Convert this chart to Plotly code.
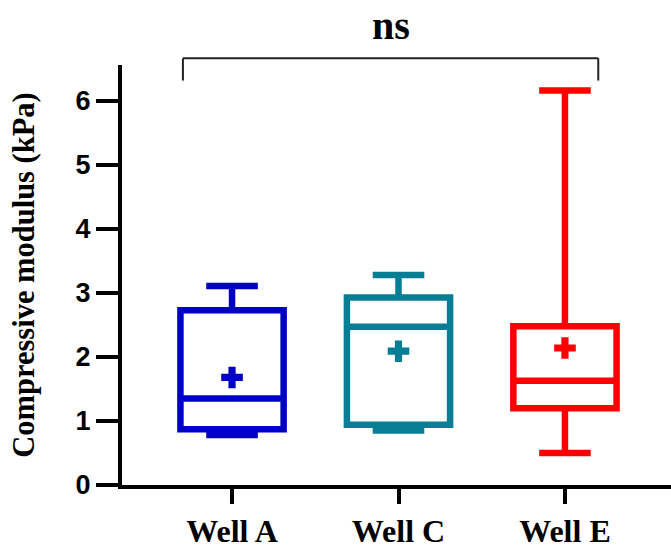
import plotly.graph_objects as go

# Compressive modulus summary statistics per well (kPa)
wells = ["Well A", "Well C", "Well E"]
upper_whisker = [3.11, 3.28, 6.16]
q3 = [2.73, 2.93, 2.48]
median = [1.35, 2.47, 1.63]
q1 = [0.87, 0.94, 1.20]
lower_whisker = [0.78, 0.85, 0.50]
mean = [1.68, 2.09, 2.14]
colors = ["#0000C4", "#077E96", "#FF0000"]

y_ticks = [0, 1, 2, 3, 4, 5, 6]
sig_label = "ns"

W, H = 671, 550
margin = dict(l=122, r=0, t=65, b=65)
x_range = [-0.661, 2.637]
y_range = [0, 6.56]

fig = go.Figure()

for i, name in enumerate(wells):
    fig.add_trace(go.Box(
        x=[i],
        q1=[q1[i]], median=[median[i]], q3=[q3[i]],
        lowerfence=[lower_whisker[i]], upperfence=[upper_whisker[i]],
        width=0.62, whiskerwidth=0.5,
        line=dict(color=colors[i], width=6.5),
        fillcolor="rgba(0,0,0,0)",
        boxpoints=False, name=name, showlegend=False,
    ))
    fig.add_trace(go.Scatter(
        x=[i], y=[mean[i]], mode="markers",
        marker=dict(symbol="cross", size=18, color=colors[i], line=dict(width=0)),
        showlegend=False, cliponaxis=False,
    ))

# Comparison bracket spanning the groups, placed in paper coordinates
def to_paper_x(v):
    return (v - x_range[0]) / (x_range[1] - x_range[0])

bx0, bx1 = to_paper_x(-0.295), to_paper_x(2.2)
by_top, by_bot = 1.016, 0.963
for path in [
    dict(x0=bx0, x1=bx1, y0=by_top, y1=by_top),
    dict(x0=bx0, x1=bx0, y0=by_top, y1=by_bot),
    dict(x0=bx1, x1=bx1, y0=by_top, y1=by_bot),
]:
    fig.add_shape(type="line", xref="paper", yref="paper",
                  line=dict(color="#222222", width=2), **path)

fig.add_annotation(
    text=sig_label, xref="paper", yref="paper",
    x=to_paper_x(0.955), y=1.095, xanchor="center", yanchor="middle", showarrow=False,
    font=dict(family="Liberation Serif, Times New Roman", size=40, color="black", weight="bold"),
)

fig.update_layout(
    width=W, height=H, margin=margin,
    plot_bgcolor="white", paper_bgcolor="white",
    showlegend=False,
)
fig.update_xaxes(
    range=x_range, tickmode="array", tickvals=[0, 1, 2], ticktext=wells,
    showline=True, linecolor="black", linewidth=4,
    ticks="outside", ticklen=15, tickwidth=4, tickcolor="black",
    showgrid=False, zeroline=False,
    tickfont=dict(family="Liberation Serif, Times New Roman", size=32, color="black", weight="bold"),
    automargin=False,
)
fig.update_yaxes(
    range=y_range, tickmode="array", tickvals=y_ticks,
    showline=True, linecolor="black", linewidth=4,
    ticks="outside", ticklen=22, tickwidth=4, tickcolor="black",
    showgrid=False, zeroline=False,
    tickfont=dict(family="Liberation Sans, Arial", size=27, color="black", weight="bold"),
    title=dict(text="Compressive modulus (kPa)", standoff=33,
               font=dict(family="Liberation Serif, Times New Roman", size=30.5, color="black", weight="bold")),
    automargin=False,
)

fig.write_html("out.html")
